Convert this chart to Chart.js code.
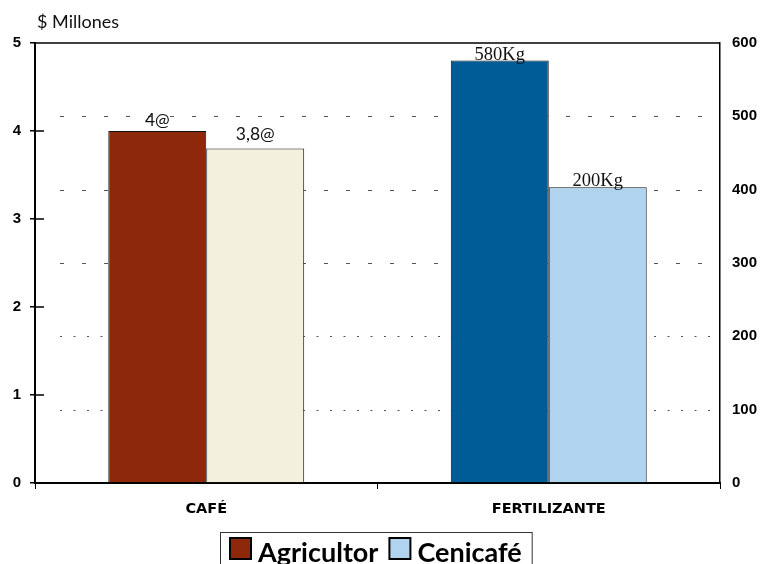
<!DOCTYPE html>
<html>
<head>
<meta charset="utf-8">
<script src="https://cdn.jsdelivr.net/npm/chart.js@4/dist/chart.umd.min.js"></script>
<style>
  html, body { margin: 0; padding: 0; background: #fff; }
  canvas { display: block; }
</style>
</head>
<body>
<canvas id="c" width="763" height="564"></canvas>
<script>
// Costs in millions of pesos, per category
const categories = ['CAFÉ', 'FERTILIZANTE'];
const seriesNames = ['Agricultor', 'Cenicafé'];
const agricultor = [4.0, 4.8];
const cenicafe = [3.8, 3.36];
// Quantity labels printed above each bar
const agricultorLabels = ['4@', '580Kg'];
const cenicafeLabels = ['3,8@', '200Kg'];
// Axis ranges
const leftMax = 5, leftStep = 1;
const rightMax = 600, rightStep = 100;

const agricultorColors = ['#8e280b', '#005c96'];
const cenicafeColors = ['#f4f0de', '#b0d3ef'];
const legendColors = ['#8e280b', '#b0d3ef'];

const decorations = {
  id: 'decorations',
  beforeDatasetsDraw(chart) {
    const ctx = chart.ctx, a = chart.chartArea, s = chart.scales.y1;
    ctx.save();
    ctx.strokeStyle = '#555';
    ctx.lineWidth = 1;
    s.ticks.forEach((t) => {
      if (t.value <= 0 || t.value >= rightMax) return;
      const y = Math.round(s.getPixelForValue(t.value)) + 0.5;
      ctx.setLineDash(t.value >= 300 ? [4, 18] : [2, 11.5]);
      ctx.beginPath();
      ctx.moveTo(a.left + 25, y);
      ctx.lineTo(a.right - 5, y);
      ctx.stroke();
    });
    ctx.restore();
  },
  afterDatasetsDraw(chart) {
    const ctx = chart.ctx;
    const texts = [agricultorLabels, cenicafeLabels];
    ctx.save();
    ctx.fillStyle = '#111';
    ctx.textAlign = 'center';
    ctx.textBaseline = 'alphabetic';
    texts.forEach((arr, di) => {
      const meta = chart.getDatasetMeta(di);
      meta.data.forEach((bar, i) => {
        ctx.font = i === 0 ? '17.5px Lato, sans-serif' : '18.5px "Liberation Serif", serif';
        ctx.fillText(arr[i], bar.x, bar.y - (i === 0 ? 5 + di * 4 : 1));
      });
    });
    ctx.restore();
  },
  afterDraw(chart) {
    const ctx = chart.ctx, a = chart.chartArea, ys = chart.scales.y;
    ctx.save();
    // top frame line
    ctx.strokeStyle = '#000';
    ctx.lineWidth = 1.5;
    ctx.beginPath();
    ctx.moveTo(a.left, a.top);
    ctx.lineTo(a.right, a.top);
    ctx.stroke();
    // inner part of the left ticks
    ys.ticks.forEach((t) => {
      if (t.value === 0 || t.value === leftMax) return;
      const y = ys.getPixelForValue(t.value);
      ctx.beginPath();
      ctx.moveTo(a.left, y);
      ctx.lineTo(a.left + 9, y);
      ctx.stroke();
    });
    // axis title
    ctx.fillStyle = '#111';
    ctx.font = '18px Lato, sans-serif';
    ctx.textAlign = 'left';
    ctx.textBaseline = 'middle';
    ctx.fillText('$ Millones', 37, 22);
    // legend
    ctx.font = 'bold 27px Lato, sans-serif';
    const box = 21, gap = 7, between = 11, pad = 10;
    const widths = seriesNames.map((n) => ctx.measureText(n).width);
    const total = pad * 2 + seriesNames.length * (box + gap) + widths.reduce((p, w) => p + w, 0) + between;
    let x = Math.round((a.left + a.right) / 2 - total / 2) - 2;
    const top = 532;
    ctx.lineWidth = 1;
    ctx.strokeStyle = '#333';
    ctx.strokeRect(x + 0.5, top + 0.5, total, chart.height - top + 5);
    x += pad;
    ctx.textBaseline = 'alphabetic';
    seriesNames.forEach((n, i) => {
      ctx.fillStyle = legendColors[i];
      ctx.fillRect(x, top + 6, box, box);
      ctx.lineWidth = 2;
      ctx.strokeStyle = '#000';
      ctx.strokeRect(x, top + 6, box, box);
      x += box + gap;
      ctx.fillStyle = '#000';
      ctx.fillText(n, x, top + 30);
      x += widths[i] + between;
    });
    ctx.restore();
  }
};

new Chart(document.getElementById('c'), {
  type: 'bar',
  data: {
    labels: categories,
    datasets: [
      {
        label: seriesNames[0],
        data: agricultor,
        backgroundColor: agricultorColors,
        borderColor: '#111',
        borderWidth: 1,
        yAxisID: 'y'
      },
      {
        label: seriesNames[1],
        data: cenicafe,
        backgroundColor: cenicafeColors,
        borderColor: '#111',
        borderWidth: 1,
        yAxisID: 'y'
      }
    ]
  },
  options: {
    responsive: false,
    animation: false,
    layout: { padding: { top: 43, bottom: 33, left: 0, right: 0 } },
    datasets: { bar: { categoryPercentage: 0.572, barPercentage: 1.0 } },
    plugins: {
      legend: { display: false },
      tooltip: { enabled: false }
    },
    scales: {
      x: {
        grid: { offset: true, drawOnChartArea: false, tickLength: 6, color: '#000', lineWidth: 1 },
        border: { color: '#000', width: 2 },
        ticks: { color: '#000', padding: 12, font: { family: '"DejaVu Sans"', weight: 'bold', size: 14.5 } },
        afterFit(s) { s.height = 48; }
      },
      y: {
        position: 'left',
        min: 0,
        max: leftMax,
        ticks: { stepSize: leftStep, color: '#000', padding: 9, font: { family: '"Liberation Sans"', weight: 'bold', size: 15 } },
        grid: { drawOnChartArea: false, tickLength: 5, color: '#000', lineWidth: 1.5 },
        border: { color: '#000', width: 2 },
        afterFit(s) { s.width = 35; }
      },
      y1: {
        position: 'right',
        min: 0,
        max: rightMax,
        ticks: { stepSize: rightStep, color: '#000', padding: 4, font: { family: '"Liberation Sans"', weight: 'bold', size: 15 } },
        grid: { display: false, drawOnChartArea: false },
        border: { display: true, color: '#000', width: 1.5 },
        afterFit(s) { s.width = 43; }
      }
    }
  },
  plugins: [decorations]
});
</script>
</body>
</html>
